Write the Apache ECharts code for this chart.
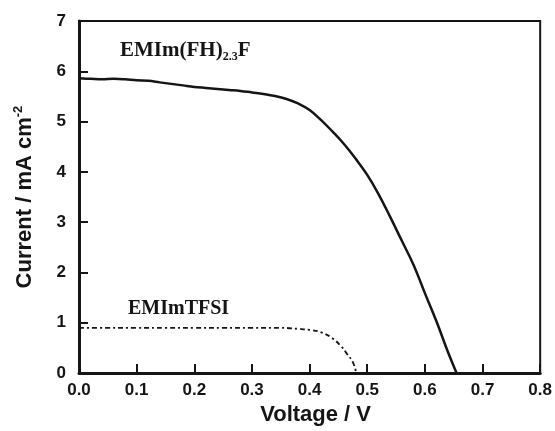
<!DOCTYPE html>
<html>
<head>
<meta charset="utf-8">
<script src="https://cdn.jsdelivr.net/npm/echarts@6/dist/echarts.min.js"></script>
<style>
  html, body { margin: 0; padding: 0; background: #fff; }
  #chart { width: 555px; height: 431px; }
</style>
</head>
<body>
<div id="chart"></div>
<script>
// J–V curves of two dye-sensitized cells with different ionic-liquid electrolytes
const fhVoltage = [0, 0.02, 0.04, 0.06, 0.08, 0.10, 0.12, 0.14, 0.16, 0.18, 0.20, 0.22, 0.24, 0.26, 0.28, 0.30, 0.32, 0.34, 0.36, 0.38, 0.40, 0.42, 0.44, 0.46, 0.48, 0.50, 0.52, 0.54, 0.56, 0.58, 0.60, 0.62, 0.64, 0.655];
const fhCurrent = [5.86, 5.85, 5.84, 5.85, 5.84, 5.82, 5.81, 5.78, 5.75, 5.72, 5.69, 5.67, 5.65, 5.63, 5.61, 5.58, 5.55, 5.51, 5.45, 5.36, 5.23, 5.03, 4.80, 4.55, 4.26, 3.94, 3.55, 3.10, 2.63, 2.16, 1.59, 1.03, 0.42, 0.0];

const tfsiVoltage = [0, 0.05, 0.10, 0.15, 0.20, 0.25, 0.30, 0.35, 0.38, 0.40, 0.42, 0.44, 0.455, 0.465, 0.475, 0.481];
const tfsiCurrent = [0.90, 0.90, 0.90, 0.90, 0.90, 0.90, 0.90, 0.90, 0.88, 0.86, 0.81, 0.69, 0.53, 0.38, 0.22, 0.0];

const xTicks = { min: 0, max: 0.8, step: 0.1 };
const yTicks = { min: 0, max: 7, step: 1 };

const pairs = (xs, ys) => xs.map((x, i) => [x, ys[i]]);

const chart = echarts.init(document.getElementById('chart'), null, { renderer: 'canvas' });

const ink = '#151515';
const sans = 'Liberation Sans, Arial, sans-serif';
const tickFont = { color: ink, fontFamily: sans, fontWeight: 'bold', fontSize: 17 };

chart.setOption({
  animation: false,
  backgroundColor: '#fff',
  grid: {
    left: 79, right: 14, top: 21, bottom: 52,
    show: true, borderColor: ink, borderWidth: 2, backgroundColor: 'transparent'
  },
  xAxis: {
    type: 'value',
    min: xTicks.min, max: xTicks.max, interval: xTicks.step,
    name: 'Voltage / V',
    nameLocation: 'middle',
    nameGap: 27,
    nameTextStyle: { color: ink, fontFamily: sans, fontWeight: 'bold', fontSize: 22, padding: [0, 0, 0, 12] },
    axisLine: { show: true, onZero: false, lineStyle: { color: ink, width: 3 } },
    axisTick: { show: true, inside: true, length: 9, lineStyle: { color: ink, width: 2 } },
    axisLabel: { ...tickFont, margin: 9, formatter: v => v.toFixed(1) },
    splitLine: { show: false }
  },
  yAxis: {
    type: 'value',
    min: yTicks.min, max: yTicks.max, interval: yTicks.step,
    name: 'Current / mA cm{sup|-2}',
    nameLocation: 'middle',
    nameGap: 41,
    nameTextStyle: {
      color: ink, fontFamily: sans, fontWeight: 'bold', fontSize: 22,
      rich: {
        sup: { fontFamily: sans, fontWeight: 'bold', fontSize: 13, color: ink, verticalAlign: 'top', padding: [0, 0, 13, 0] }
      }
    },
    axisLine: { show: true, onZero: false, lineStyle: { color: ink, width: 3 } },
    axisTick: { show: true, inside: true, length: 9, lineStyle: { color: ink, width: 2 } },
    axisLabel: { ...tickFont, margin: 13 },
    splitLine: { show: false }
  },
  series: [
    {
      name: 'EMIm(FH)2.3F',
      type: 'line',
      data: pairs(fhVoltage, fhCurrent),
      showSymbol: false,
      smooth: 0.4,
      lineStyle: { color: ink, width: 2.5 },
      z: 3
    },
    {
      name: 'EMImTFSI',
      type: 'line',
      data: pairs(tfsiVoltage, tfsiCurrent),
      showSymbol: false,
      smooth: 0.4,
      lineStyle: { color: ink, width: 1.8, type: [5, 3, 2, 3] },
      z: 3
    }
  ],
  graphic: [
    {
      type: 'text', left: 120, top: 40,
      style: {
        text: 'EMIm(FH){sub|2.3}F',
        fill: ink, font: 'bold 21px "Liberation Serif", "Times New Roman", serif',
        rich: {
          sub: { fontFamily: 'Liberation Serif, Times New Roman, serif', fontWeight: 'bold', fontSize: 12, fill: ink, padding: [12, 0, 0, 0] }
        }
      }
    },
    {
      type: 'text', left: 128, top: 299,
      style: { text: 'EMImTFSI', fill: ink, font: 'bold 20px "Liberation Serif", "Times New Roman", serif' }
    }
  ]
});
</script>
</body>
</html>
